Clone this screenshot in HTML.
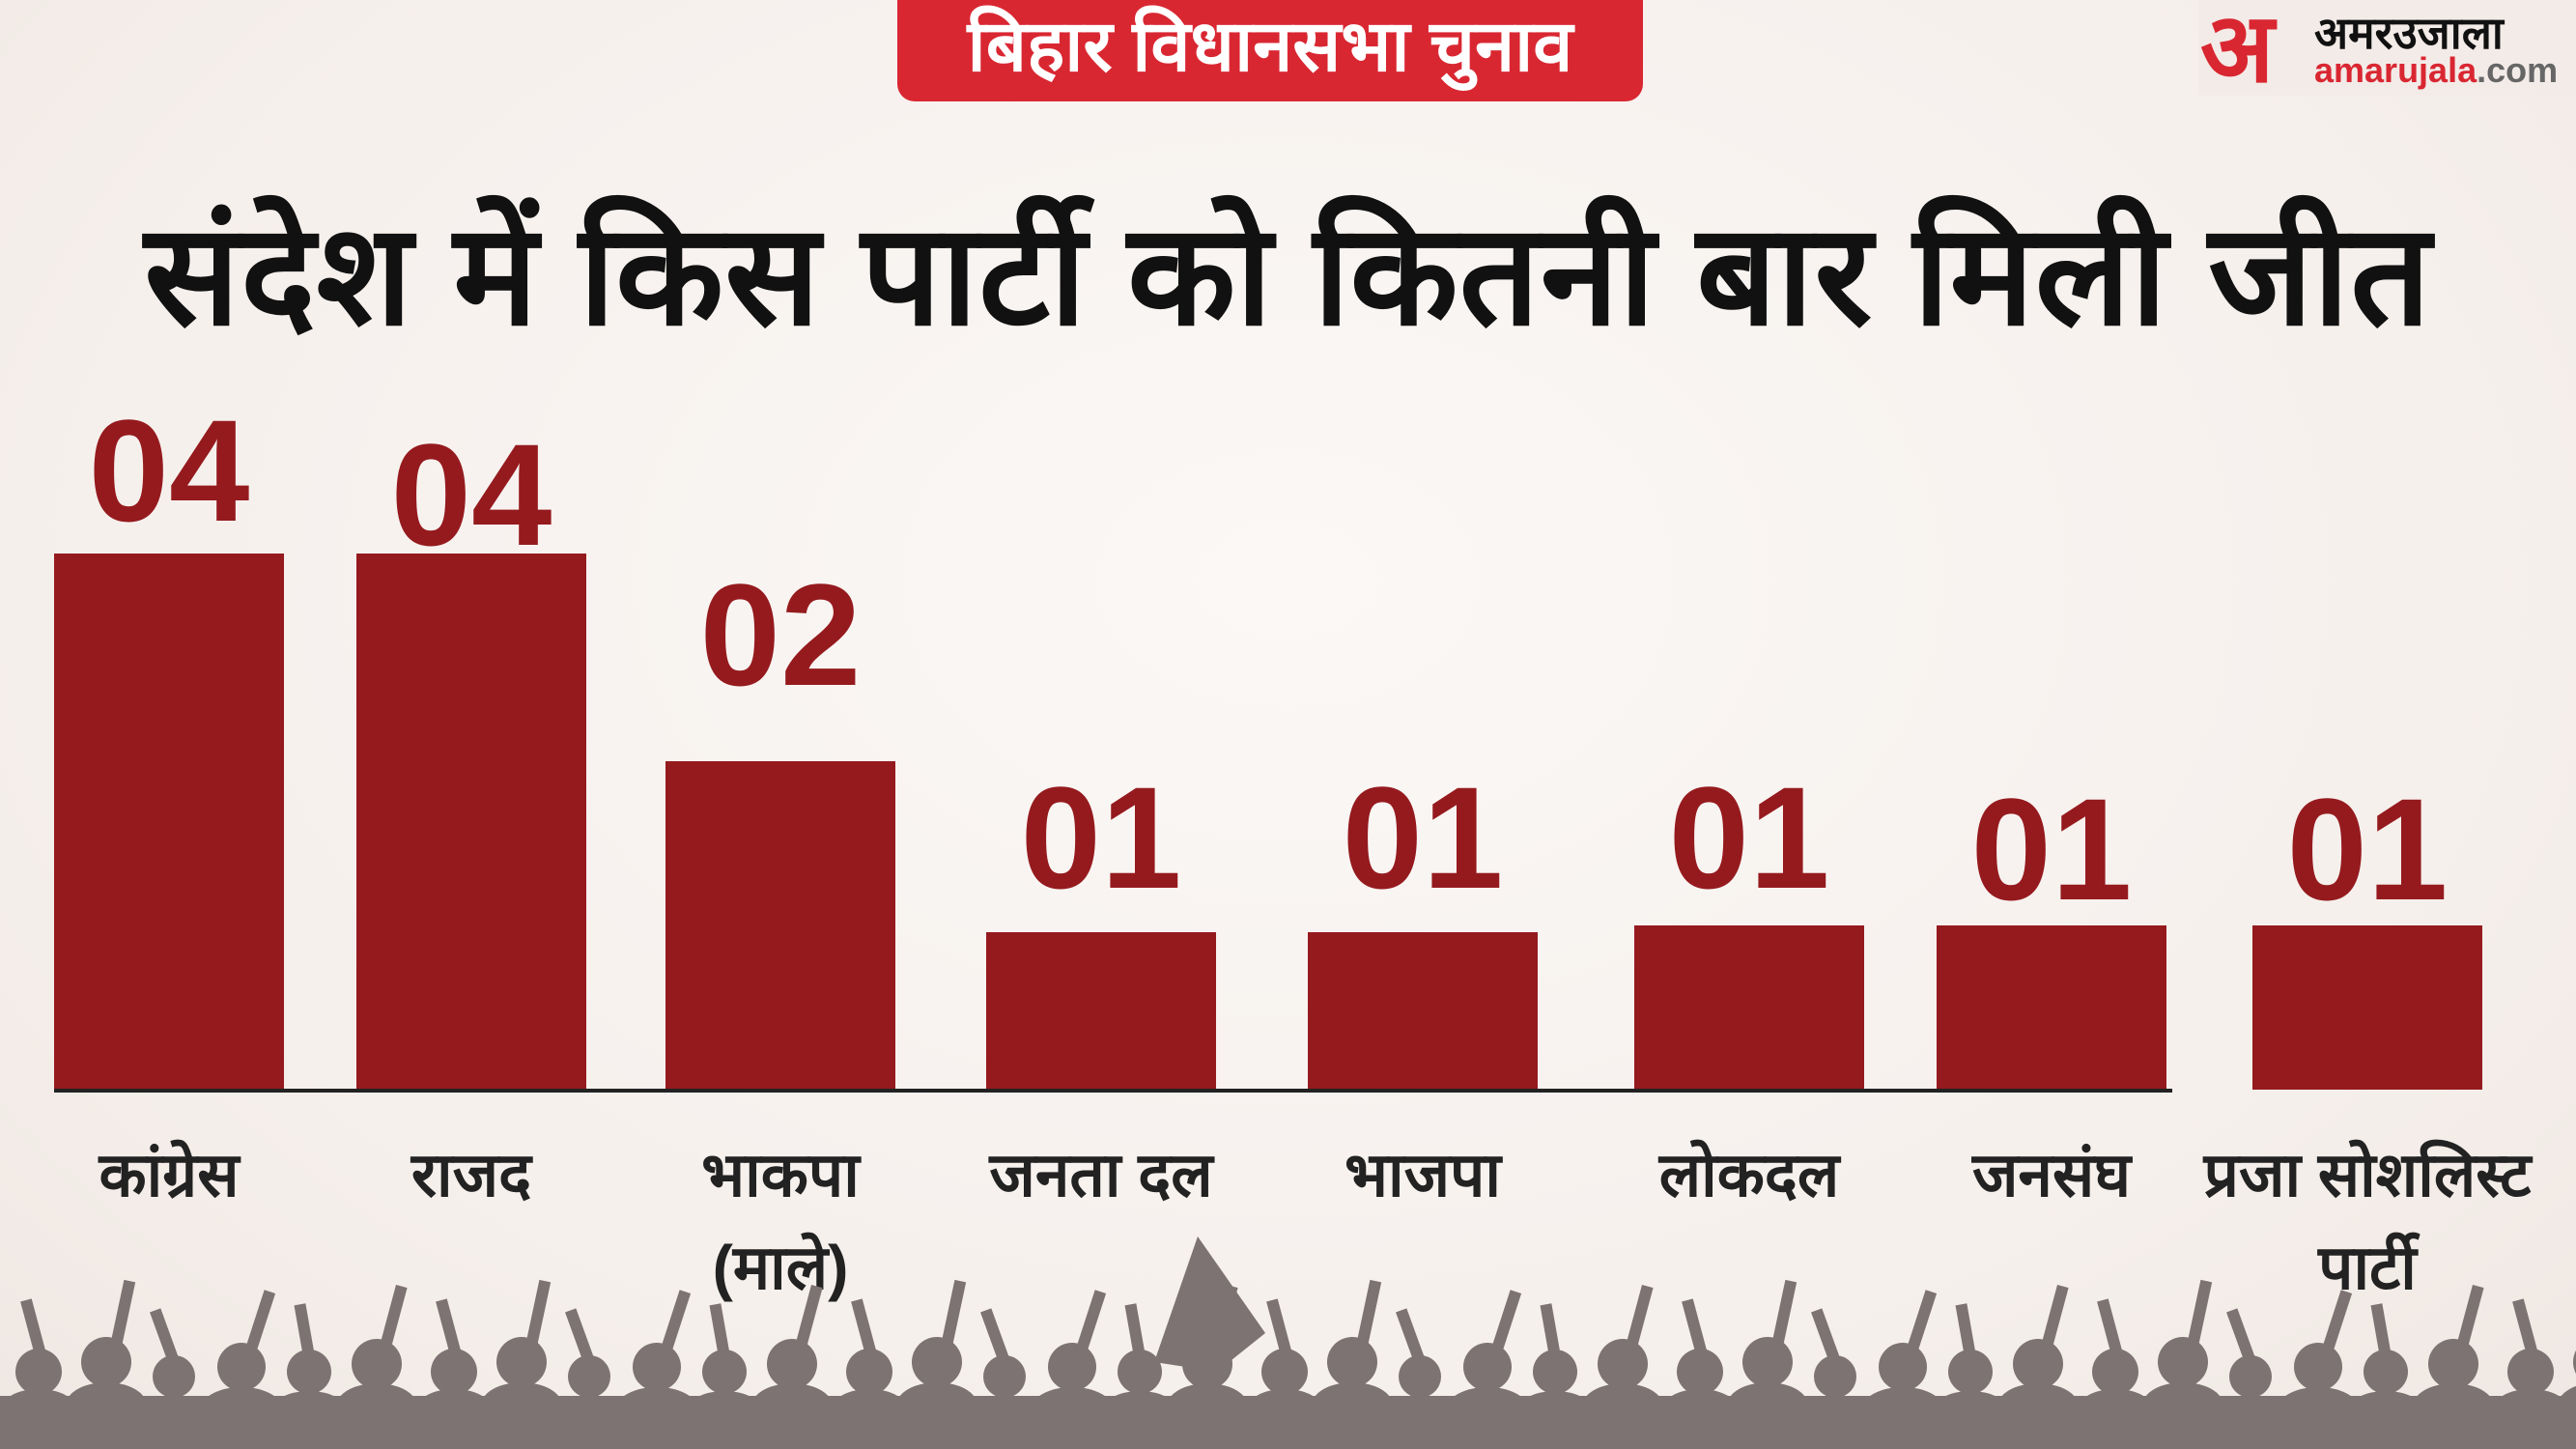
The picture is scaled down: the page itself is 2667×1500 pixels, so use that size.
<!DOCTYPE html>
<html><head><meta charset="utf-8"><style>
*{margin:0;padding:0;box-sizing:border-box}
body{width:2667px;height:1500px;overflow:hidden;position:relative;background:radial-gradient(ellipse at 50% 40%,#fbf8f6 0%,#f5efeb 70%,#efe7e2 100%);font-family:"Liberation Sans","DejaVu Sans",sans-serif}
.pill{position:absolute;left:929px;top:0;width:772px;height:105px;background:#d92732;border-radius:0 0 18px 18px;color:#fff;font-weight:bold;font-size:74px;text-align:center;line-height:96px}
.logo{position:absolute;left:2276px;top:0;width:391px;height:99px;background:#f3ebe7}
.title{position:absolute;left:0;width:2667px;top:195px;text-align:center;font-weight:bold;font-size:146px;color:#111;line-height:180px;letter-spacing:1px}
.bar{position:absolute;width:238px;background:#951a1e;bottom:372px}
.val{position:absolute;width:300px;text-align:center;color:#951a1e;font-weight:bold;font-size:150px;line-height:150px}
.base{position:absolute;left:56px;top:1127px;width:2193px;height:4px;background:#222}
.cat{position:absolute;width:340px;text-align:center;font-size:64px;color:#222;top:1168px;line-height:96px;font-weight:bold}
</style></head><body>
<div class="pill">बिहार विधानसभा चुनाव</div>
<div class="logo"><div style="position:absolute;left:2px;top:0;font-size:100px;color:#d92732;font-weight:bold;line-height:100px">अ</div><div style="position:absolute;left:120px;top:2px;font-size:46px;font-weight:bold;color:#111">अमरउजाला</div><div style="position:absolute;left:120px;top:52px;font-size:36px;font-weight:bold;color:#d92732">amarujala<span style="color:#666">.com</span></div></div>
<div class="title">संदेश में किस पार्टी को कितनी बार मिली जीत</div>

<div class="bar" style="left:56px;top:573px"></div>
<div class="bar" style="left:369px;top:573px"></div>
<div class="bar" style="left:689px;top:788px"></div>
<div class="bar" style="left:1021px;top:965px"></div>
<div class="bar" style="left:1354px;top:965px"></div>
<div class="bar" style="left:1692px;top:958px"></div>
<div class="bar" style="left:2005px;top:958px"></div>
<div class="bar" style="left:2332px;top:958px"></div>
<div class="base"></div>

<div class="val" style="left:25px;top:412px">04</div>
<div class="val" style="left:338px;top:437px">04</div>
<div class="val" style="left:658px;top:582px">02</div>
<div class="val" style="left:990px;top:792px">01</div>
<div class="val" style="left:1323px;top:792px">01</div>
<div class="val" style="left:1661px;top:792px">01</div>
<div class="val" style="left:1974px;top:804px">01</div>
<div class="val" style="left:2301px;top:804px">01</div>

<div class="cat" style="left:5px">कांग्रेस</div>
<div class="cat" style="left:318px">राजद</div>
<div class="cat" style="left:638px">भाकपा<br>(माले)</div>
<div class="cat" style="left:970px">जनता दल</div>
<div class="cat" style="left:1303px">भाजपा</div>
<div class="cat" style="left:1641px">लोकदल</div>
<div class="cat" style="left:1954px">जनसंघ</div>
<div class="cat" style="left:2271px;width:360px">प्रजा सोशलिस्ट<br>पार्टी</div>

<svg style="position:absolute;left:0;top:1260px" width="2667" height="240" viewBox="0 0 2667 240">
<g fill="#7d7372">
<polygon points="1195,150 1240,20 1310,120 1260,160"/>
<rect x="0" y="185" width="2667" height="55"/>
<g id="c">
<circle cx="40" cy="160" r="24"/><ellipse cx="40" cy="200" rx="40" ry="22"/><rect x="30" y="85" width="12" height="75" transform="rotate(-15 35 120)"/>
<circle cx="110" cy="150" r="26"/><ellipse cx="110" cy="195" rx="42" ry="24"/><rect x="120" y="65" width="12" height="85" transform="rotate(12 125 105)"/>
<circle cx="180" cy="165" r="22"/><ellipse cx="180" cy="205" rx="38" ry="20"/><rect x="165" y="95" width="12" height="65" transform="rotate(-20 170 125)"/>
<circle cx="250" cy="155" r="25"/><ellipse cx="250" cy="198" rx="42" ry="22"/><rect x="262" y="75" width="12" height="80" transform="rotate(18 267 112)"/>
<circle cx="320" cy="160" r="23"/><ellipse cx="320" cy="202" rx="40" ry="22"/><rect x="310" y="90" width="12" height="70" transform="rotate(-10 315 122)"/>
<circle cx="390" cy="152" r="26"/><ellipse cx="390" cy="196" rx="42" ry="24"/><rect x="400" y="70" width="12" height="82" transform="rotate(15 405 108)"/>
</g>
<use href="#c" x="430"/><use href="#c" x="860"/><use href="#c" x="1290"/><use href="#c" x="1720"/><use href="#c" x="2150"/><use href="#c" x="2580"/>
</g></svg>
</body></html>
